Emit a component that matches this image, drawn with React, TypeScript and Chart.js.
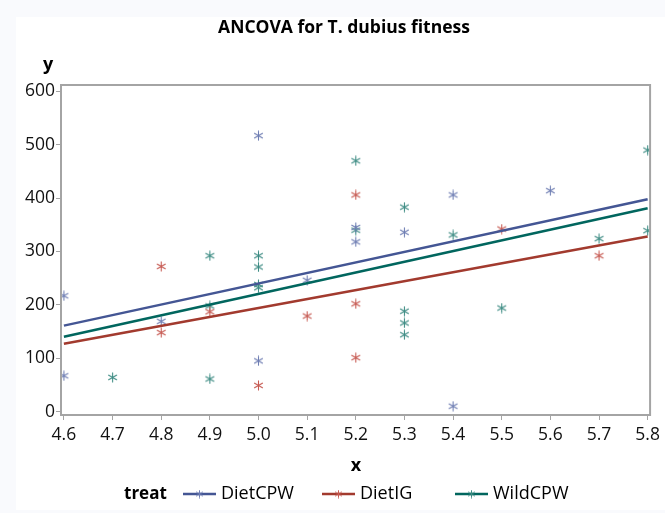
import React, { useEffect, useRef } from "react";
import { Chart, registerables } from "chart.js";

Chart.register(...registerables);

const titleText = "ANCOVA for T. dubius fitness";
const xTicks = [4.6, 4.7, 4.8, 4.9, 5.0, 5.1, 5.2, 5.3, 5.4, 5.5, 5.6, 5.7, 5.8];
const yTicks = [0, 100, 200, 300, 400, 500, 600];
const groups = ["DietCPW", "DietIG", "WildCPW"];

const cpwX = [4.6, 4.6, 4.8, 5.0, 5.0, 5.1, 5.2, 5.2, 5.3, 5.4, 5.4, 5.6];
const cpwY = [217, 67, 169, 517, 95, 246, 345, 318, 336, 406, 10, 414];
const igX = [4.8, 4.8, 4.9, 5.0, 5.1, 5.2, 5.2, 5.2, 5.5, 5.7];
const igY = [272, 148, 187, 49, 179, 406, 202, 101, 342, 292];
const wildX = [4.7, 4.9, 4.9, 4.9, 5.0, 5.0, 5.0, 5.0, 5.2, 5.2, 5.3, 5.3, 5.3, 5.3, 5.4, 5.5, 5.7, 5.8, 5.8];
const wildY = [64, 292, 198, 61, 292, 271, 238, 232, 470, 340, 383, 188, 166, 144, 331, 194, 324, 490, 339];

const fitX = [4.6, 5.8];
const fitCPW = [161, 398];
const fitIG = [127, 328];
const fitWild = [140, 381];

const lineColors = ["#445694", "#A23A2E", "#01665E"];
const markerColors = ["#6F7EB3", "#C65A52", "#3E8C84"];

const FONT = "'Open Sans', 'DejaVu Sans', sans-serif";

function makeAsterisk(color: string, size = 11, lw = 1.1) {
  const c = document.createElement("canvas");
  c.width = size;
  c.height = size;
  const ctx = c.getContext("2d")!;
  ctx.strokeStyle = color;
  ctx.lineWidth = lw;
  const cx = size / 2, cy = size / 2, r = size / 2 - 0.5;
  [90, 30, -30].forEach((deg) => {
    const a = (deg * Math.PI) / 180;
    ctx.beginPath();
    ctx.moveTo(cx - r * Math.cos(a), cy - r * Math.sin(a));
    ctx.lineTo(cx + r * Math.cos(a), cy + r * Math.sin(a));
    ctx.stroke();
  });
  return c;
}

function pts(xs: number[], ys: number[]) {
  return xs.map((x, i) => ({ x, y: ys[i] }));
}

export default function App() {
  const ref = useRef<HTMLCanvasElement>(null);
  useEffect(() => {
    const stars = markerColors.map((c) => makeAsterisk(c));
    const legendStars = markerColors.map((c) => makeAsterisk(c, 9, 1));
    const deco = {
      id: "deco",
      beforeDraw(chart: any) {
        const ctx = chart.ctx;
        ctx.save();
        ctx.fillStyle = "#f9fafd";
        ctx.fillRect(0, 0, chart.width, chart.height);
        ctx.fillStyle = "#ffffff";
        ctx.fillRect(16, 17, chart.width - 16, 493);
        ctx.restore();
      },
      afterDraw(chart: any) {
        const ctx = chart.ctx;
        const a = chart.chartArea;
        ctx.save();
        ctx.strokeStyle = "#a4a4a4";
        ctx.lineWidth = 2;
        ctx.strokeRect(a.left, a.top, a.right - a.left, a.bottom - a.top);
        ctx.fillStyle = "#000";
        ctx.textBaseline = "middle";
        ctx.textAlign = "center";
        ctx.font = `bold 17.5px ${FONT}`;
        ctx.fillText(titleText, 344, 28);
        ctx.font = `bold 18px ${FONT}`;
        ctx.fillText("y", 48, 65);
        ctx.fillText("x", 356, 466);
        // legend
        const ly = 494;
        ctx.textAlign = "left";
        ctx.font = `bold 17px ${FONT}`;
        ctx.fillText("treat", 124, ly);
        const starts = [183, 322, 455];
        ctx.font = `18px ${FONT}`;
        groups.forEach((g, i) => {
          const x0 = starts[i];
          ctx.strokeStyle = lineColors[i];
          ctx.lineWidth = 2.5;
          ctx.beginPath();
          ctx.moveTo(x0, ly);
          ctx.lineTo(x0 + 33, ly);
          ctx.stroke();
          const s = legendStars[i];
          ctx.drawImage(s, x0 + 16.5 - s.width / 2, ly - s.height / 2);
          ctx.fillStyle = "#000";
          ctx.fillText(g, x0 + 38, ly);
        });
        ctx.restore();
      },
    };

    const scatterSets = [
      pts(cpwX, cpwY),
      pts(igX, igY),
      pts(wildX, wildY),
    ].map((d, i) => ({
      type: "scatter" as const,
      label: groups[i],
      data: d,
      pointStyle: stars[i],
      pointRadius: 5,
      showLine: false,
      order: 2,
    }));
    const fitSets = [fitCPW, fitIG, fitWild].map((ys, i) => ({
      type: "line" as const,
      label: groups[i] + " fit",
      data: pts(fitX, ys),
      borderColor: lineColors[i],
      borderWidth: 2.5,
      pointRadius: 0,
      fill: false,
      order: 1,
    }));

    const chart = new Chart(ref.current!, {
      type: "scatter",
      data: { datasets: [...scatterSets, ...fitSets] as any },
      plugins: [deco],
      options: {
        animation: false,
        responsive: false,
        layout: { padding: { left: 0, top: 85, right: 11.7, bottom: 0 } },
        plugins: { legend: { display: false }, title: { display: false }, tooltip: { enabled: false } },
        scales: {
          x: {
            type: "linear",
            min: 4.594,
            max: 5.805,
            afterBuildTicks: (s: any) => {
              s.ticks = xTicks.map((v) => ({ value: v }));
            },
            afterFit: (s: any) => {
              s.height = 98;
            },
            grid: { display: true, drawOnChartArea: false, drawTicks: true, tickLength: 5, color: "#a4a4a4", lineWidth: 1 },
            border: { display: false },
            ticks: {
              color: "#111",
              font: { family: FONT, size: 17.5 },
              padding: 5,
              maxRotation: 0,
              autoSkip: false,
              callback: (v: any) => Number(v).toFixed(1),
            },
          },
          y: {
            type: "linear",
            min: -6.5,
            max: 612,
            afterBuildTicks: (s: any) => {
              s.ticks = yTicks.map((v) => ({ value: v }));
            },
            afterFit: (s: any) => {
              s.width = 61;
            },
            grid: { display: true, drawOnChartArea: false, drawTicks: true, tickLength: 5, color: "#a4a4a4", lineWidth: 1 },
            border: { display: false },
            ticks: {
              color: "#111",
              font: { family: FONT, size: 17.5 },
              padding: 1,
              autoSkip: false,
              callback: (v: any) => String(v),
            },
          },
        },
      },
    });
    return () => chart.destroy();
  }, []);
  return (
    <div style={{ position: "fixed", left: 0, top: 0, width: 665, height: 513 }}>
      <canvas ref={ref} width={665} height={513} style={{ width: 665, height: 513, display: "block" }} />
    </div>
  );
}
